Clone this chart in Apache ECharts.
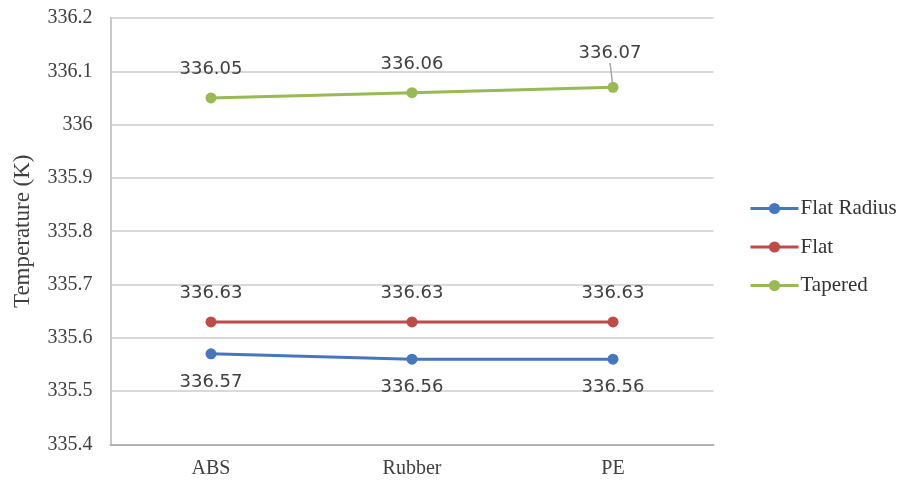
<!DOCTYPE html>
<html>
<head>
<meta charset="utf-8">
<script src="https://cdn.jsdelivr.net/npm/echarts@6/dist/echarts.min.js"></script>
<style>html,body{margin:0;padding:0;background:#fff;}#c{width:904px;height:482px;}</style>
</head>
<body>
<div id="c"></div>
<script>
const categories = ['ABS', 'Rubber', 'PE'];
const seriesNames = ['Flat Radius', 'Flat', 'Tapered'];
const flatRadius = [335.57, 335.56, 335.56];
const flat = [335.63, 335.63, 335.63];
const tapered = [336.05, 336.06, 336.07];
const flatRadiusLabels = ['336.57', '336.56', '336.56'];
const flatLabels = ['336.63', '336.63', '336.63'];
const taperedLabels = ['336.05', '336.06', '336.07'];
const yMin = 335.4, yMax = 336.2, yStep = 0.1;

const serif = '"Liberation Serif", "Times New Roman", serif';
const sans = '"DejaVu Sans", sans-serif';
const colors = ['#4677BE', '#BE4B48', '#98B954'];

function mkSeries(name, data, labels, color, pos) {
  return {
    name: name,
    type: 'line',
    data: data,
    symbol: 'circle',
    symbolSize: 11,
    lineStyle: { width: 3, color: color },
    itemStyle: { color: color },
    label: {
      show: true,
      position: pos,
      distance: 14,
      fontFamily: sans,
      fontSize: 18,
      color: '#404040',
      formatter: p => labels[p.dataIndex]
    }
  };
}

const taperedSeries = mkSeries(seriesNames[2],
  tapered.map((v, i) => i === 2
    ? { value: v, labelLine: { show: true, lineStyle: { color: '#a6a6a6', width: 1.5 } } }
    : { value: v, labelLine: { show: false } }),
  taperedLabels, colors[2], 'top');
taperedSeries.labelLine = { show: false };
taperedSeries.labelLayout = function (p) {
  if (p.dataIndex === 2) return { dy: -5, dx: -3 };
  return {};
};

const chart = echarts.init(document.getElementById('c'), null, { renderer: 'canvas' });
chart.setOption({
  animation: false,
  color: colors,
  grid: { left: 110.5, right: 190.5, top: 18, bottom: 37.5, containLabel: false },
  legend: {
    orient: 'vertical',
    left: 749,
    top: 198,
    padding: 0,
    itemWidth: 48,
    itemHeight: 14,
    itemGap: 17.5,
    data: seriesNames,
    lineStyle: { width: 3 },
    textStyle: { fontFamily: serif, fontSize: 21, color: '#333', padding: [0, 0, 0, -3] }
  },
  xAxis: {
    type: 'category',
    data: categories,
    boundaryGap: true,
    axisTick: { show: false },
    axisLine: { lineStyle: { color: '#b3b3b3', width: 2 } },
    axisLabel: { fontFamily: serif, fontSize: 20, color: '#404040', margin: 14 }
  },
  yAxis: {
    type: 'value',
    min: yMin,
    max: yMax,
    interval: yStep,
    name: 'Temperature (K)',
    nameLocation: 'middle',
    nameGap: 76,
    nameTextStyle: { fontFamily: serif, fontSize: 23, color: '#404040' },
    axisLine: { show: true, lineStyle: { color: '#c8c8c8', width: 2 } },
    axisTick: { show: false },
    splitLine: { lineStyle: { color: '#d9d9d9', width: 2 } },
    axisLabel: {
      fontFamily: serif, fontSize: 20, color: '#404040', margin: 18,
      formatter: v => String(parseFloat(v.toFixed(1)))
    }
  },
  series: [
    mkSeries(seriesNames[0], flatRadius, flatRadiusLabels, colors[0], 'bottom'),
    mkSeries(seriesNames[1], flat, flatLabels, colors[1], 'top'),
    taperedSeries
  ]
});
</script>
</body>
</html>
